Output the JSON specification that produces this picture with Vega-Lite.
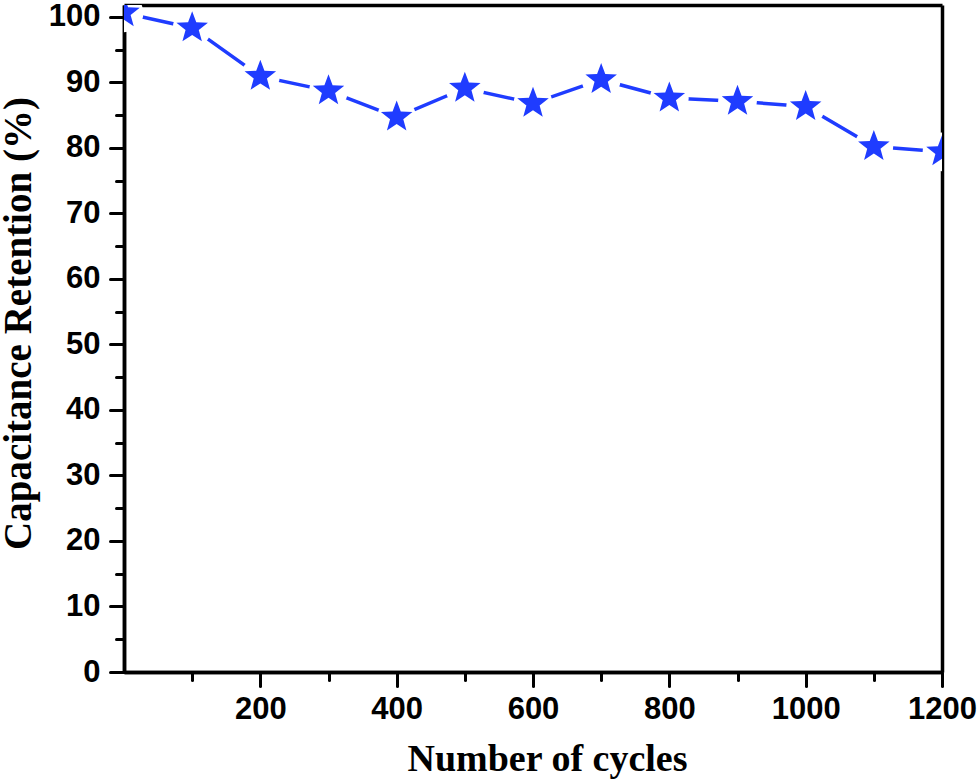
{
  "$schema": "https://vega.github.io/schema/vega-lite/v6.json",
  "description": "Capacitance retention versus number of cycles",
  "autosize": "none",
  "width": 818,
  "height": 667,
  "padding": {"left": 124, "top": 5, "right": 37, "bottom": 111},
  "background": "white",
  "config": {
    "view": {"stroke": null},
    "axis": {
      "grid": false,
      "domainColor": "black",
      "domainWidth": 3.5,
      "tickColor": "black",
      "tickWidth": 3,
      "tickCap": "round",
      "labelFont": "Liberation Sans",
      "labelFontWeight": "bold",
      "labelFontSize": 31,
      "labelColor": "black",
      "titleFont": "Liberation Serif",
      "titleFontWeight": "bold",
      "titleFontSize": 38,
      "titleColor": "black",
      "zindex": 1
    }
  },
  "data": {
    "values": [
      {"cycles": 0, "retention": 100.6},
      {"cycles": 100, "retention": 98.3},
      {"cycles": 200, "retention": 90.9},
      {"cycles": 300, "retention": 88.7},
      {"cycles": 400, "retention": 84.7},
      {"cycles": 500, "retention": 89.1},
      {"cycles": 600, "retention": 86.8},
      {"cycles": 700, "retention": 90.4},
      {"cycles": 800, "retention": 87.6},
      {"cycles": 900, "retention": 87.1},
      {"cycles": 1000, "retention": 86.3},
      {"cycles": 1100, "retention": 80.2},
      {"cycles": 1200, "retention": 79.4}
    ]
  },
  "resolve": {"axis": {"x": "independent", "y": "independent"}},
  "layer": [
    {
      "mark": {"type": "line", "color": "#1f3cff", "strokeWidth": 3.5, "clip": true},
      "encoding": {
        "x": {
          "field": "cycles", "type": "quantitative",
          "scale": {"domain": [0, 1200], "nice": false, "zero": false},
          "axis": {
            "orient": "bottom", "title": "Number of cycles", "format": "d",
            "values": [200, 400, 600, 800, 1000, 1200],
            "tickSize": 14, "labelPadding": 8, "titlePadding": 16,
            "titleX": 423, "labelFlush": false
          }
        },
        "y": {
          "field": "retention", "type": "quantitative",
          "scale": {"domain": [0, 101.8], "nice": false, "zero": false},
          "axis": {
            "orient": "left", "title": "Capacitance Retention (%)",
            "values": [0, 10, 20, 30, 40, 50, 60, 70, 80, 90, 100],
            "tickSize": 14, "labelPadding": 10, "titlePadding": 10,
            "titleFontSize": 39, "titleY": 318, "labelFlush": false
          }
        }
      }
    },
    {
      "mark": {"type": "point", "shape": "circle", "filled": true, "color": "white", "opacity": 1, "size": 1500, "clip": true},
      "encoding": {
        "x": {"field": "cycles", "type": "quantitative", "axis": null},
        "y": {"field": "retention", "type": "quantitative", "axis": null}
      }
    },
    {
      "mark": {
        "type": "point", "filled": true, "color": "#1f3cff", "opacity": 1, "size": 1100, "clip": true,
        "shape": "M0,-1L0.247,-0.34L0.951,-0.309L0.399,0.13L0.588,0.809L0,0.42L-0.588,0.809L-0.399,0.13L-0.951,-0.309L-0.247,-0.34Z"
      },
      "encoding": {
        "x": {
          "field": "cycles", "type": "quantitative",
          "axis": {
            "orient": "bottom", "title": null, "labels": false,
            "values": [100, 300, 500, 700, 900, 1100], "tickSize": 8
          }
        },
        "y": {
          "field": "retention", "type": "quantitative",
          "axis": {
            "orient": "left", "title": null, "labels": false,
            "values": [5, 15, 25, 35, 45, 55, 65, 75, 85, 95], "tickSize": 8
          }
        }
      }
    },
    {
      "mark": {"type": "point", "opacity": 0},
      "encoding": {
        "x": {
          "field": "cycles", "type": "quantitative",
          "axis": {"orient": "top", "title": null, "labels": false, "ticks": false}
        },
        "y": {
          "field": "retention", "type": "quantitative",
          "axis": {"orient": "right", "title": null, "labels": false, "ticks": false}
        }
      }
    }
  ]
}
